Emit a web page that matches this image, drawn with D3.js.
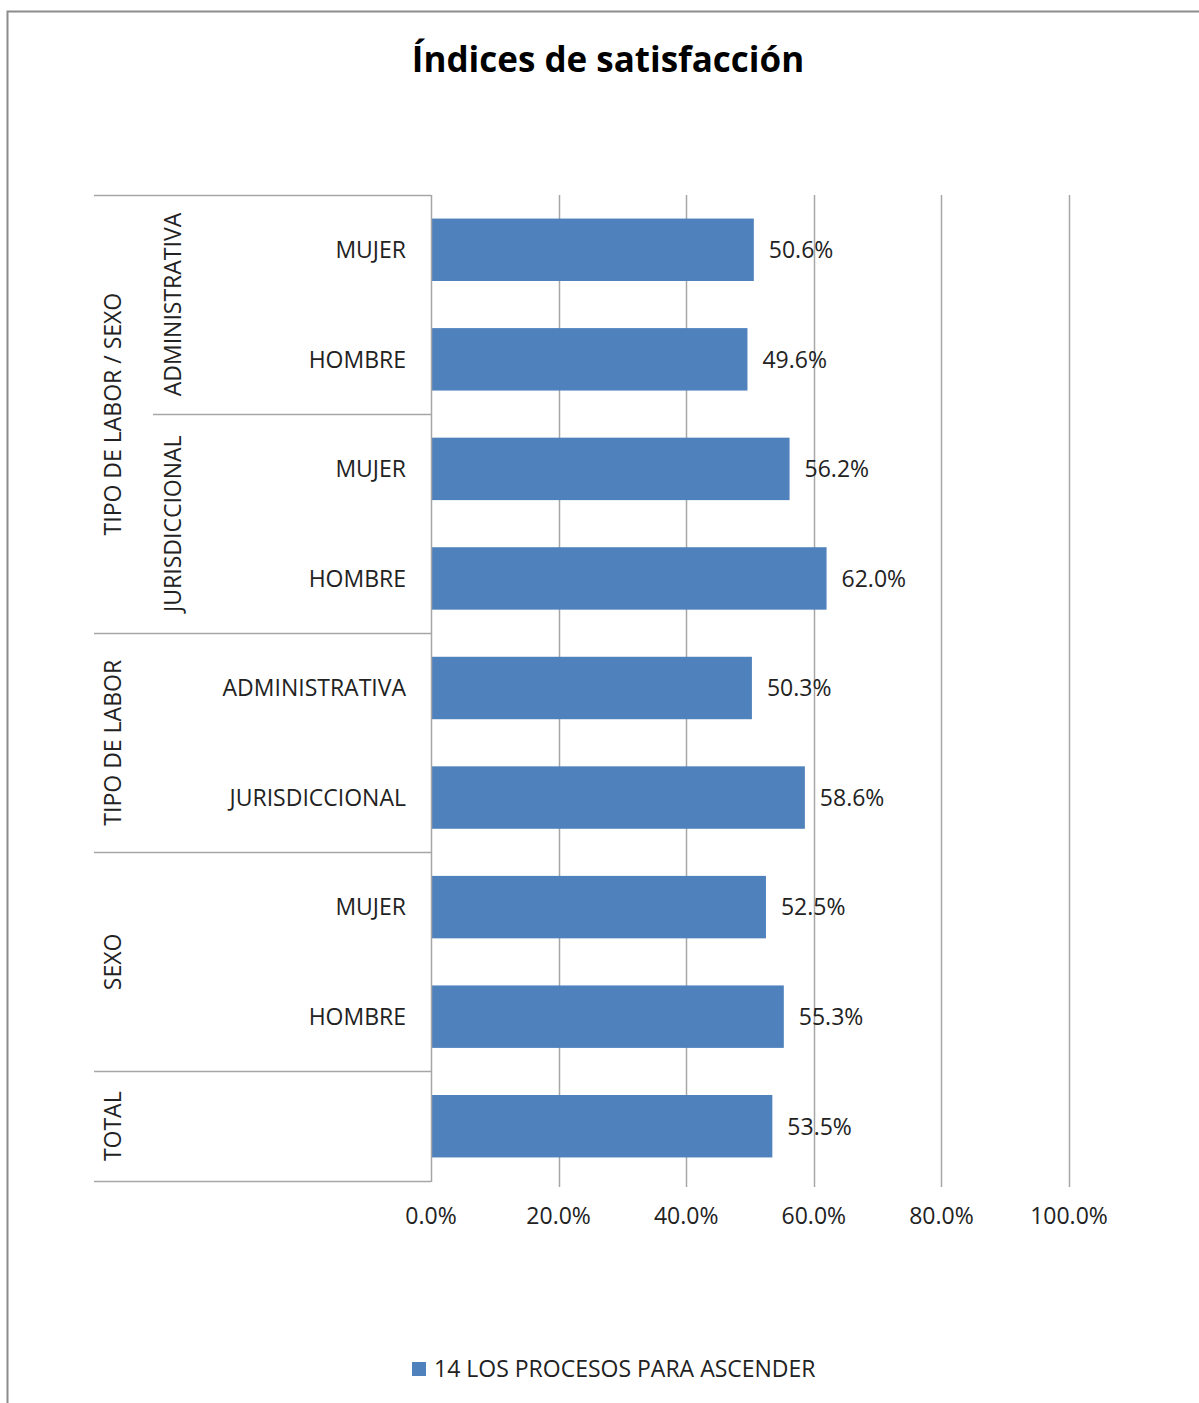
<!DOCTYPE html>
<html>
<head>
<meta charset="utf-8">
<script src="https://cdn.jsdelivr.net/npm/d3@7"></script>
<style>
  body { margin: 0; background: #fff; }
  svg text { font-family: "Open Sans", "Noto Sans", sans-serif; fill: #222; }
</style>
</head>
<body>
<svg id="chart" width="1199" height="1403"></svg>
<script>
// data, top to bottom
const leafLabels = ["MUJER", "HOMBRE", "MUJER", "HOMBRE", "ADMINISTRATIVA", "JURISDICCIONAL", "MUJER", "HOMBRE", ""];
const values = [50.6, 49.6, 56.2, 62.0, 50.3, 58.6, 52.5, 55.3, 53.5];
const innerNames = ["ADMINISTRATIVA", "JURISDICCIONAL"];
const innerSpans = [2, 2];
const outerNames = ["TIPO DE LABOR / SEXO", "TIPO DE LABOR", "SEXO", "TOTAL"];
const outerSpans = [4, 2, 2, 1];
const ticks = [0, 20, 40, 60, 80, 100];
const seriesName = "14 LOS PROCESOS PARA ASCENDER";
const title = "Índices de satisfacción";

const barColor = "#4f81bd";
const gridColor = "#a6a6a6";
const fs = "23px";

const svg = d3.select("#chart");

// outer frame (bottom and right run off the page)
svg.append("rect")
  .attr("x", 7.5).attr("y", 11.5)
  .attr("width", 1200).attr("height", 1400)
  .attr("fill", "none").attr("stroke", "#8c8c8c").attr("stroke-width", 2);

svg.append("text")
  .attr("x", 608).attr("y", 72)
  .attr("text-anchor", "middle")
  .style("font-size", "35px").style("font-weight", "bold").style("fill", "#000")
  .text(title);

const x = d3.scaleLinear().domain([0, 100]).range([431, 1069]);
const y = d3.scaleBand().domain(d3.range(values.length)).range([195, 1181]).paddingInner(0.43).paddingOuter(0.215);
const step = y.step();
const top0 = 195;

// gridlines (and little ticks below)
svg.append("g").selectAll("line")
  .data(ticks.slice(1))
  .join("line")
  .attr("x1", d => Math.round(x(d)) + 0.5).attr("x2", d => Math.round(x(d)) + 0.5)
  .attr("y1", 195).attr("y2", 1187)
  .attr("stroke", gridColor).attr("stroke-width", 1.5);

// bars
svg.append("g").selectAll("rect")
  .data(values)
  .join("rect")
  .attr("x", x(0))
  .attr("y", (d, i) => y(i))
  .attr("width", d => x(d) - x(0))
  .attr("height", y.bandwidth())
  .attr("fill", barColor);

// value labels
svg.append("g").selectAll("text")
  .data(values)
  .join("text")
  .attr("x", d => x(d) + 15)
  .attr("y", (d, i) => y(i) + y.bandwidth() / 2)
  .attr("dy", "0.36em")
  .style("font-size", fs)
  .text(d => d.toFixed(1) + "%");

// category axis line
svg.append("line")
  .attr("x1", 431.5).attr("x2", 431.5).attr("y1", 195).attr("y2", 1182)
  .attr("stroke", gridColor).attr("stroke-width", 1.5);

// tick labels
svg.append("g").selectAll("text")
  .data(ticks)
  .join("text")
  .attr("x", d => x(d))
  .attr("y", 1224)
  .attr("text-anchor", "middle")
  .style("font-size", fs)
  .text(d => d.toFixed(1) + "%");

// leaf labels
svg.append("g").selectAll("text")
  .data(leafLabels)
  .join("text")
  .attr("x", 406)
  .attr("y", (d, i) => top0 + step * (i + 0.5))
  .attr("dy", "0.36em")
  .attr("text-anchor", "end")
  .style("font-size", fs)
  .text(d => d);

// outer group separators and labels
const sep = svg.append("g").attr("stroke", gridColor).attr("stroke-width", 1.5);
let acc = 0;
sep.append("line").attr("x1", 94).attr("x2", 431).attr("y1", top0 + 0.5).attr("y2", top0 + 0.5);
outerNames.forEach((name, k) => {
  const start = acc;
  acc += outerSpans[k];
  const yb = Math.round(top0 + step * acc) + 0.5;
  sep.append("line").attr("x1", 94).attr("x2", 431).attr("y1", yb).attr("y2", yb);
  const yc = top0 + step * (start + acc) / 2;
  svg.append("text")
    .attr("transform", `translate(113,${yc}) rotate(-90)`)
    .attr("dy", "0.36em")
    .attr("text-anchor", "middle")
    .style("font-size", fs)
    .text(name);
});

// inner groups (first outer group only)
acc = 0;
innerNames.forEach((name, k) => {
  const start = acc;
  acc += innerSpans[k];
  if (k < innerNames.length - 1) {
    const yb = Math.round(top0 + step * acc) + 0.5;
    sep.append("line").attr("x1", 153).attr("x2", 431).attr("y1", yb).attr("y2", yb);
  }
  const yc = top0 + step * (start + acc) / 2;
  svg.append("text")
    .attr("transform", `translate(173,${yc}) rotate(-90)`)
    .attr("dy", "0.36em")
    .attr("text-anchor", "middle")
    .style("font-size", fs)
    .text(name);
});

// legend
const lg = svg.append("g").attr("transform", "translate(412,1362)");
lg.append("rect").attr("width", 14).attr("height", 14).attr("fill", barColor);
lg.append("text").attr("x", 22).attr("y", 7).attr("dy", "0.36em")
  .style("font-size", fs).text(seriesName);
</script>
</body>
</html>
